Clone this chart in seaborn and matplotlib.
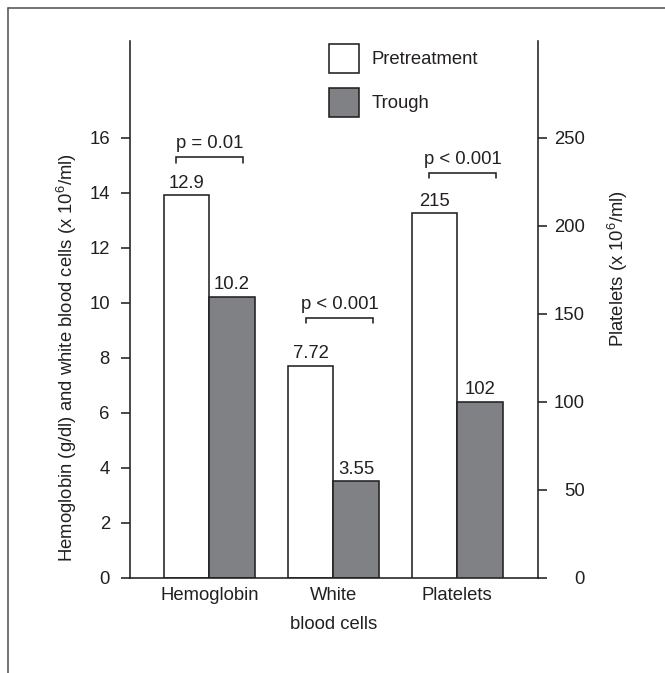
import matplotlib
matplotlib.use("Agg")
import matplotlib.pyplot as plt
from matplotlib.patches import Patch
from matplotlib.lines import Line2D
import numpy as np
import pandas as pd
import seaborn as sns

# ---------------- data ----------------
categories = ["Hemoglobin", "White\nblood cells", "Platelets"]
groups = ["Pretreatment", "Trough"]
# bar heights as drawn (left axis: g/dl and x10^6/ml)
hb_wbc_pretreatment = [13.9, 7.7]
hb_wbc_trough = [10.2, 3.5]
# bar heights as drawn (right axis: platelets x10^6/ml)
platelets_pretreatment = [207]
platelets_trough = [100]
# printed value labels
labels_pretreatment = ["12.9", "7.72", "215"]
labels_trough = ["10.2", "3.55", "102"]
p_values = ["p = 0.01", "p < 0.001", "p < 0.001"]
left_ticks = [0, 2, 4, 6, 8, 10, 12, 14, 16]
right_ticks = [0, 50, 100, 150, 200, 250]

df_left = pd.DataFrame({
    "category": categories[:2] * 2,
    "group": [groups[0]] * 2 + [groups[1]] * 2,
    "value": hb_wbc_pretreatment + hb_wbc_trough,
})
df_right = pd.DataFrame({
    "category": [categories[2]] * 2,
    "group": groups,
    "value": platelets_pretreatment + platelets_trough,
})

# ---------------- style ----------------
ink = "#231f20"
gray = "#808185"
fs = 13.3
sns.set_style("ticks")
plt.rcParams.update({
    "font.family": ["Liberation Sans", "DejaVu Sans"],
    "mathtext.fontset": "custom",
    "mathtext.rm": "Liberation Sans",
    "mathtext.it": "Liberation Sans:italic",
    "mathtext.bf": "Liberation Sans:bold",
    "mathtext.default": "rm",
    "text.color": ink,
    "axes.labelcolor": ink,
    "xtick.color": ink,
    "ytick.color": ink,
    "axes.edgecolor": ink,
})

fig = plt.figure(figsize=(6.65, 6.73), dpi=100)
W, H = 665, 673
ax_l, ax_r, ax_t, ax_b = 130, 537.7, 41.3, 577.5
ax = fig.add_axes([ax_l / W, 1 - ax_b / H, (ax_r - ax_l) / W, (ax_b - ax_t) / H])

pal = {groups[0]: "white", groups[1]: gray}
common = dict(x="category", y="value", hue="group", order=categories,
              hue_order=groups, palette=pal, width=0.73, gap=0,
              saturation=1, edgecolor=ink, linewidth=1.15,
              errorbar=None, legend=False)
sns.barplot(data=df_left, ax=ax, **common)
ax2 = ax.twinx()
sns.barplot(data=df_right, ax=ax2, **common)

ymax = 19.5
ax.set_ylim(0, ymax)
ax2.set_ylim(0, ymax * 250 / 16)
ax.set_xlim(-0.64, 2.648)

# value labels
for cont, labs in zip(ax.containers, [labels_pretreatment[:2], labels_trough[:2]]):
    ax.bar_label(cont, labels=labs, padding=2.6, fontsize=fs, color=ink)
for cont, labs in zip(ax2.containers, [labels_pretreatment[2:], labels_trough[2:]]):
    ax2.bar_label(cont, labels=labs, padding=2.6, fontsize=fs, color=ink)

# significance brackets (left-axis units)
brackets = [(0, -0.27, 0.27, 15.28), (1, -0.22, 0.32, 9.43), (2, -0.226, 0.312, 14.72)]
drop = 0.19
for (i, o0, o1, yb), ptxt in zip(brackets, p_values):
    x0, x1 = i + o0, i + o1
    ax.plot([x0, x0, x1, x1], [yb - drop, yb, yb, yb - drop], color=ink, lw=1.15,
            solid_joinstyle="miter", clip_on=False)
    ax.annotate(ptxt, xy=((x0 + x1) / 2, yb), xytext=(0, 3.5), textcoords="offset points",
                ha="center", va="bottom", fontsize=fs, color=ink)

# axes styling
for s in ["top", "right"]:
    ax.spines[s].set_visible(False)
for s in ["top", "left", "bottom"]:
    ax2.spines[s].set_visible(False)
for a in (ax, ax2):
    for sp in a.spines.values():
        sp.set_linewidth(1.15)
        sp.set_color(ink)

ax.set_yticks(left_ticks)
ax2.set_yticks(right_ticks)
ax.tick_params(axis="y", length=6.5, width=1.15, pad=8, labelsize=fs)
ax2.tick_params(axis="y", length=6.5, width=1.15, pad=27.4, labelsize=fs)
for t in ax2.get_yticklabels():
    t.set_ha("right")
ax.set_xticks(range(len(categories)))
ax.set_xticklabels(categories, fontsize=fs, linespacing=1.95)
ax.tick_params(axis="x", length=0, pad=6.5)
ax2.tick_params(axis="x", length=0)

ax.set_xlabel("")
ax2.set_xlabel("")
ax.set_ylabel("Hemoglobin (g/dl) and white blood cells (x 10$^6$/ml)", fontsize=fs)
ax.yaxis.set_label_coords(-0.1545, 0.411)
ax.yaxis.label.set_va("center")
ax2.set_ylabel("Platelets (x 10$^6$/ml)", fontsize=fs, rotation=90)
ax2.yaxis.set_label_coords(1.197, 0.577)
ax2.yaxis.label.set_va("center")

# legend
handles = [Patch(facecolor=pal[g], edgecolor=ink, linewidth=1.15) for g in groups]
fs_px = fs * 100 / 72
box_h = 29
hh = (box_h / fs_px - 0.245) / 0.65
fig.legend(handles, groups, loc="upper left",
           bbox_to_anchor=(329.3 / W, 1 - 44 / H), bbox_transform=fig.transFigure,
           frameon=False, borderpad=0, borderaxespad=0, fontsize=fs,
           handlelength=30 / fs_px, handleheight=hh,
           labelspacing=15 / fs_px, handletextpad=12.4 / fs_px)

# outer frame (top and left edges)
fig.add_artist(Line2D([8 / W, 1], [1 - 8 / H, 1 - 8 / H], transform=fig.transFigure,
                      color="#4d4d4d", lw=1.1))
fig.add_artist(Line2D([8 / W, 8 / W], [0, 1 - 8 / H], transform=fig.transFigure,
                      color="#4d4d4d", lw=1.1))

fig.savefig("out.png", dpi=100)
